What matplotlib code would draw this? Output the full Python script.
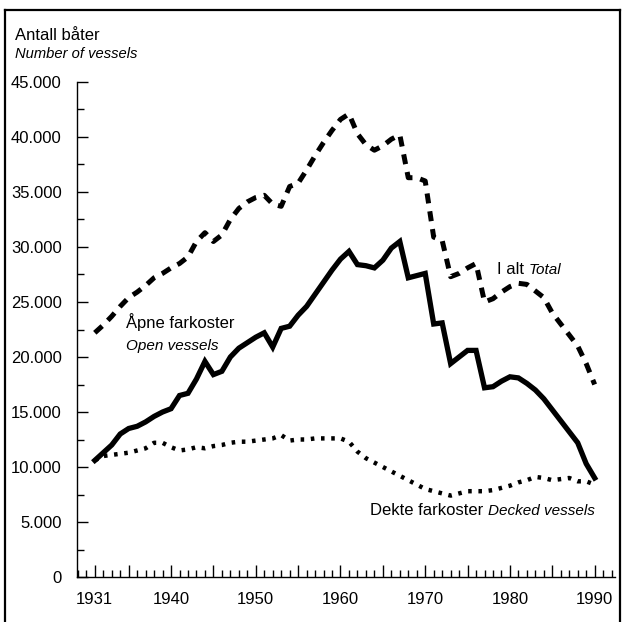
import matplotlib
matplotlib.use("Agg")
from matplotlib import pyplot as plt
from matplotlib.ticker import FixedLocator, FuncFormatter, MultipleLocator
from matplotlib.lines import Line2D

plt.rcParams["font.family"] = ["Liberation Sans Narrow", "Liberation Sans", "DejaVu Sans"]

# Antall båter, 1931-1990
years = list(range(1931, 1991))

open_vessels = [
    10600, 11300, 12000, 13000, 13500, 13700, 14100, 14600, 15000, 15300,
    16500, 16700, 18000, 19600, 18400, 18700, 20000, 20800, 21300, 21800,
    22200, 20900, 22600, 22800, 23800, 24600, 25700, 26800, 27900, 28900,
    29600, 28400, 28300, 28100, 28800, 29900, 30500, 27200, 27400, 27600,
    23000, 23100, 19400, 20000, 20600, 20600, 17200, 17300, 17800, 18200,
    18100, 17600, 17000, 16200, 15200, 14200, 13200, 12200, 10300, 9000,
]

total_vessels = [
    22200, 22900, 23700, 24600, 25400, 25900, 26500, 27200, 27600, 28100,
    28500, 29100, 30500, 31300, 30500, 31100, 32500, 33500, 34100, 34500,
    34700, 33900, 33700, 35500, 35800, 37000, 38300, 39500, 40600, 41600,
    42100, 40300, 39300, 38800, 39200, 39800, 40200, 36300, 36300, 36000,
    30900, 30600, 27300, 27600, 28100, 28500, 25000, 25300, 25900, 26400,
    26700, 26600, 26000, 25400, 24000, 23000, 22000, 21000, 19400, 17500,
]

decked_vessels = [
    10600, 11000, 11100, 11200, 11300, 11500, 11700, 12200, 12200, 11800,
    11500, 11600, 11800, 11700, 11900, 12000, 12200, 12300, 12300, 12400,
    12500, 12600, 12900, 12400, 12500, 12500, 12600, 12600, 12600, 12600,
    12300, 11400, 10800, 10400, 10000, 9600, 9200, 8800, 8400, 8000,
    7800, 7600, 7400, 7600, 7800, 7800, 7800, 7900, 8100, 8300,
    8600, 8800, 9100, 9000, 8800, 8900, 9000, 8700, 8700, 8400,
]

labelled_years = [1931, 1940, 1950, 1960, 1970, 1980, 1990]
long_ticks = [1931, 1935, 1940, 1945, 1950, 1955, 1960, 1965, 1970, 1975, 1980, 1985, 1990]

fig = plt.figure(figsize=(6.23, 6.22), dpi=100)
ax = fig.add_axes([77 / 623, 1 - 577 / 622, (615 - 77) / 623, (577 - 82) / 622])

ax.plot(years, total_vessels, color="black", lw=3.6, dashes=(2.0, 1.6),
        solid_capstyle="butt", dash_capstyle="butt")
ax.plot(years, open_vessels, color="black", lw=3.8, solid_joinstyle="miter")
ax.plot(years, decked_vessels, color="black", lw=3.2, dashes=(0.8, 1.5),
        dash_capstyle="butt")

ax.set_xlim(1928.9, 1992.4)
ax.set_ylim(0, 45000)

for side in ["top", "right"]:
    ax.spines[side].set_visible(False)
for side in ["left", "bottom"]:
    ax.spines[side].set_linewidth(1.0)

# x-akse
ax.xaxis.set_major_locator(FixedLocator(long_ticks))
ax.xaxis.set_major_formatter(FuncFormatter(lambda v, p: str(int(round(v))) if int(round(v)) in labelled_years else ""))
ax.xaxis.set_minor_locator(MultipleLocator(1))
ax.tick_params(axis="x", which="major", direction="in", length=9, width=1, pad=11, labelsize=12)
ax.tick_params(axis="x", which="minor", direction="in", length=5, width=1)

# y-akse
ax.yaxis.set_major_locator(MultipleLocator(5000))
ax.yaxis.set_minor_locator(MultipleLocator(2500))
ax.yaxis.set_major_formatter(FuncFormatter(lambda v, p: f"{v:,.0f}".replace(",", ".")))
ax.tick_params(axis="y", which="major", direction="in", length=8, width=1, pad=11, labelsize=12)
ax.tick_params(axis="y", which="minor", direction="in", length=5, width=1)

# tekster
fig.text(15 / 623, 1 - 40 / 622, "Antall båter", fontsize=12, ha="left", va="baseline")
fig.text(15 / 623, 1 - 58 / 622, "Number of vessels", fontsize=10.6, style="italic",
         ha="left", va="baseline")

ax.text(1934.7, 22600, "Åpne farkoster", fontsize=12, va="baseline")
ax.text(1934.7, 20600, "Open vessels", fontsize=11, style="italic", va="baseline")


def two_part(x, y, plain, italic):
    first = ax.text(x, y, plain, fontsize=12, va="bottom")
    ax.annotate(italic, xy=(1, 0), xycoords=first, fontsize=11, style="italic",
                va="bottom", ha="left")


two_part(1978.5, 27300, "I alt ", "Total")
two_part(1963.5, 5400, "Dekte farkoster ", "Decked vessels")

# ramme rundt figuren
for xs, ys in [([5, 5], [10, 622]), ([5, 620], [10, 10]), ([620, 620], [10, 622])]:
    fig.add_artist(Line2D([x / 623 for x in xs], [1 - y / 622 for y in ys],
                          color="black", lw=1.6))

fig.savefig("out.png", dpi=100)
